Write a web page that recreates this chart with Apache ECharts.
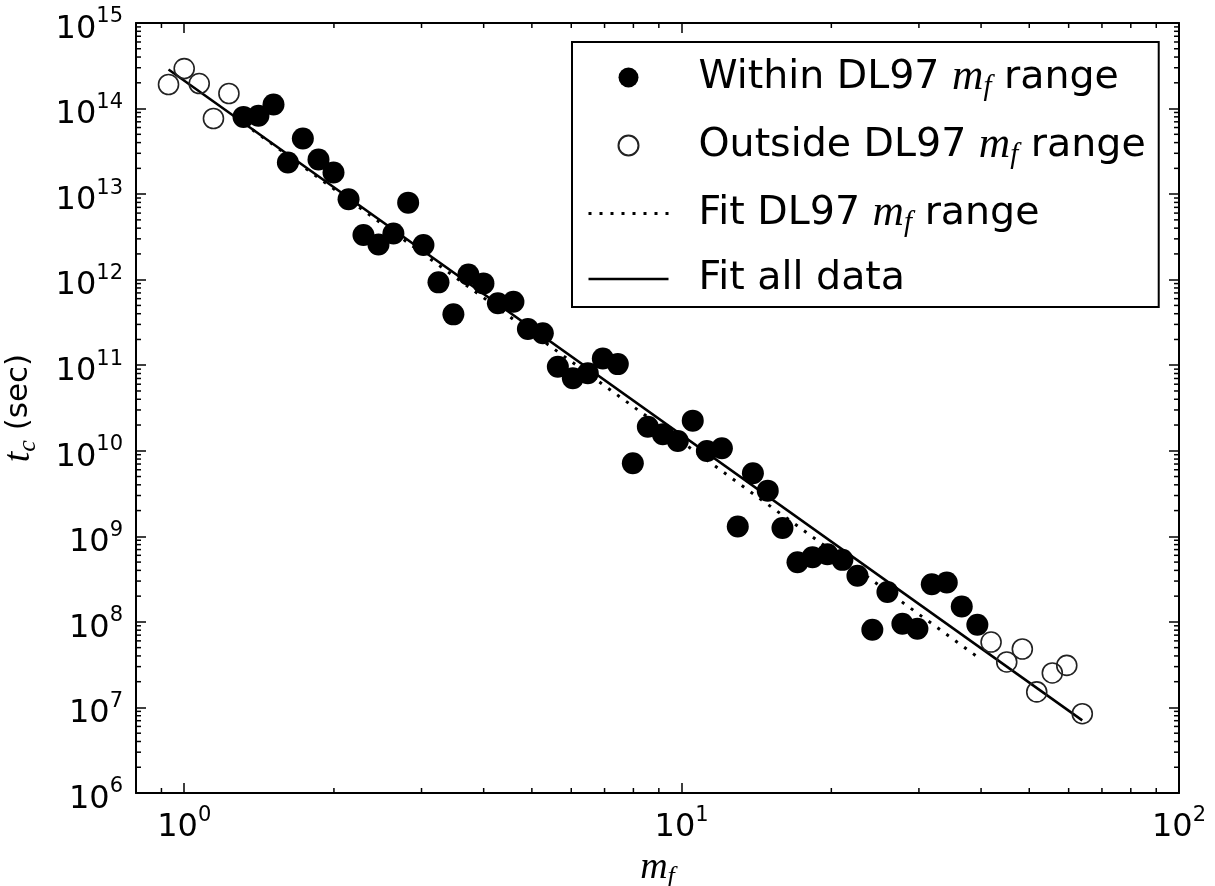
<!DOCTYPE html>
<html><head><meta charset="utf-8">
<script src="https://cdn.jsdelivr.net/npm/echarts@6/dist/echarts.min.js"></script>
<style>html,body{margin:0;padding:0;background:#fff}#c{width:1215px;height:886px}</style>
</head><body><div id="c"></div>
<script>
// ---- data ----
const withinX = [1.316,1.410,1.512,1.616,1.732,1.862,1.996,2.140,2.293,2.458,2.634,2.820,3.027,3.245,3.477,3.727,3.996,4.272,4.591,4.909,5.260,5.639,6.044,6.478,6.944,7.443,7.979,8.553,9.167,9.826,10.53,11.24,12.05,12.97,13.91,14.90,15.95,17.10,18.33,19.64,21.05,22.57,24.18,25.93,27.79,29.79,31.84,34.13,36.58,39.32];
const withinY = [7.99e13,8.25e13,1.115e14,2.34e13,4.47e13,2.54e13,1.79e13,8.73e12,3.32e12,2.58e12,3.47e12,7.95e12,2.54e12,9.30e11,3.93e11,1.15e12,9.05e11,5.29e11,5.52e11,2.65e11,2.36e11,9.61e10,7.04e10,8.05e10,1.20e11,1.03e11,7.15e9,1.91e10,1.56e10,1.30e10,2.25e10,9.96e9,1.07e10,1.30e9,5.47e9,3.42e9,1.25e9,4.99e8,5.71e8,6.19e8,5.31e8,3.46e8,8.09e7,2.23e8,9.50e7,8.31e7,2.76e8,2.89e8,1.51e8,9.25e7];
const outsideX = [0.930,1.000,1.072,1.145,1.230,41.90,45.05,48.42,51.76,55.63,59.48,63.91];
const outsideY = [1.91e14,2.93e14,1.96e14,7.65e13,1.50e14,5.81e7,3.40e7,4.82e7,1.52e7,2.53e7,3.10e7,8.45e6];
const fitDL97X = [1.316, 39.32];
const fitDL97Y = [6.74e13, 3.91e7];
const fitAllX = [0.93, 63.91];
const fitAllY = [2.86e14, 7.06e6];
const seriesNames = ['Within DL97 m_f range','Outside DL97 m_f range','Fit DL97 m_f range','Fit all data'];
const xRange = [0.8, 100];
const yRange = [1e6, 1e15];
const minorXTicks = [0.9,2,3,4,5,6,7,8,9,20,30,40,50,60,70,80,90];
const minorYMantissas = [2,3,4,5,6,7,8,9];
const yDecadeExponents = [6,7,8,9,10,11,12,13,14];
const xAxisTitle = '{i|m}{s|f}';
const yAxisTitle = '{i|t}{s|c}{n| (sec)}';

// ---- build ----
const zip = (a, b) => a.map((v, i) => [v, b[i]]);
const minorYTicks = [];
yDecadeExponents.forEach(e => minorYMantissas.forEach(m => minorYTicks.push(m * Math.pow(10, e))));

const tickRich = {
  b: {fontFamily: 'DejaVu Sans', fontSize: 32, color: '#000', padding: [13, 0, 0, 0]},
  s: {fontFamily: 'DejaVu Sans', fontSize: 21, color: '#000', padding: [0, 0, 12, 0]}
};
function powLabel(v) {
  const l = Math.log10(v), e = Math.round(l);
  if (Math.abs(l - e) > 1e-6) return '';
  return '{b|10}{s|' + e + '}';
}
const mathRich = {
  i: {fontFamily: 'Liberation Serif', fontStyle: 'italic', fontSize: 38, color: '#000'},
  s: {fontFamily: 'Liberation Serif', fontStyle: 'italic', fontSize: 26, color: '#000', padding: [18, 0, 0, 0]},
  n: {fontFamily: 'DejaVu Sans', fontSize: 31, color: '#000'}
};
const spine = {show: true, onZero: false, lineStyle: {color: '#000', width: 2}};
const majorTick = {show: true, inside: true, length: 10, lineStyle: {color: '#000', width: 1.5}};
const tickStyle = {stroke: '#000', lineWidth: 1.5};
const MINOR = 5;
const hiddenSymbol = {color: 'rgba(0,0,0,0)', borderWidth: 0, opacity: 0};
const dottedStyle = {color: '#000', width: 3, type: [3, 8]};
const solidStyle = {color: '#000', width: 2.5, type: 'solid'};

const option = {
  animation: false,
  backgroundColor: '#fff',
  grid: {left: 136, right: 36, top: 23, bottom: 93, containLabel: false, outerBoundsMode: 'none'},
  xAxis: [
    {type: 'log', min: xRange[0], max: xRange[1], position: 'bottom',
     axisLine: spine, axisTick: majorTick, splitLine: {show: false},
     axisLabel: {formatter: powLabel, rich: tickRich, margin: 6, showMinLabel: true, showMaxLabel: true},
     name: xAxisTitle, nameLocation: 'middle', nameGap: 52, nameTextStyle: {rich: mathRich}},
    {type: 'log', min: xRange[0], max: xRange[1], position: 'top',
     axisLine: spine, axisTick: majorTick, splitLine: {show: false}, axisLabel: {show: false}}
  ],
  yAxis: [
    {type: 'log', min: yRange[0], max: yRange[1], position: 'left',
     axisLine: spine, axisTick: majorTick, splitLine: {show: false},
     axisLabel: {formatter: powLabel, rich: tickRich, margin: 13, showMinLabel: true, showMaxLabel: true},
     name: yAxisTitle, nameLocation: 'middle', nameGap: 95, nameTextStyle: {rich: mathRich}},
    {type: 'log', min: yRange[0], max: yRange[1], position: 'right',
     axisLine: spine, axisTick: majorTick, splitLine: {show: false}, axisLabel: {show: false}}
  ],
  legend: {
    data: [
      {name: seriesNames[0], icon: 'circle'},
      {name: seriesNames[1], icon: 'circle'},
      {name: seriesNames[2], itemStyle: hiddenSymbol, lineStyle: dottedStyle},
      {name: seriesNames[3], itemStyle: hiddenSymbol, lineStyle: solidStyle}
    ],
    orient: 'vertical', left: 572, top: 42,
    padding: [11, 13, 6, 15], itemWidth: 80, itemHeight: 20, itemGap: 19,
    borderColor: '#000', borderWidth: 2, borderRadius: 0, backgroundColor: '#fff',
    selectedMode: false,
    textStyle: {fontFamily: 'DejaVu Sans', fontSize: 39.5, color: '#000', lineHeight: 44, padding: [0, 0, 0, 25],
      rich: {
        m: {fontFamily: 'Liberation Serif', fontStyle: 'italic', fontSize: 43.5, color: '#000', lineHeight: 44},
        f: {fontFamily: 'Liberation Serif', fontStyle: 'italic', fontSize: 29, color: '#000', lineHeight: 24, padding: [20, 0, 0, 0]}
      }},
    formatter: name => name.replace(' m_f ', ' {m|m}{f|f} ')
  },
  series: [
    {type: 'custom', name: 'minorX', silent: true, z: 1,
     data: minorXTicks.map(v => [v, yRange[0]]),
     renderItem: (params, api) => {
       const v = api.value(0);
       const pb = api.coord([v, yRange[0]]), pt = api.coord([v, yRange[1]]);
       return {type: 'group', children: [
         {type: 'line', shape: {x1: pb[0], y1: pb[1], x2: pb[0], y2: pb[1] - MINOR}, style: tickStyle},
         {type: 'line', shape: {x1: pt[0], y1: pt[1], x2: pt[0], y2: pt[1] + MINOR}, style: tickStyle}
       ]};
     }},
    {type: 'custom', name: 'minorY', silent: true, z: 1,
     data: minorYTicks.map(v => [xRange[0], v]),
     renderItem: (params, api) => {
       const v = api.value(1);
       const pl = api.coord([xRange[0], v]), pr = api.coord([xRange[1], v]);
       return {type: 'group', children: [
         {type: 'line', shape: {x1: pl[0], y1: pl[1], x2: pl[0] + MINOR, y2: pl[1]}, style: tickStyle},
         {type: 'line', shape: {x1: pr[0], y1: pr[1], x2: pr[0] - MINOR, y2: pr[1]}, style: tickStyle}
       ]};
     }},
    {type: 'line', name: seriesNames[2], data: zip(fitDL97X, fitDL97Y), symbol: 'none', showSymbol: false, z: 2,
     itemStyle: {color: '#000'}, lineStyle: dottedStyle},
    {type: 'line', name: seriesNames[3], data: zip(fitAllX, fitAllY), symbol: 'none', showSymbol: false, z: 2,
     itemStyle: {color: '#000'}, lineStyle: solidStyle},
    {type: 'scatter', name: seriesNames[0], data: zip(withinX, withinY), symbol: 'circle', symbolSize: 22, z: 3,
     itemStyle: {color: '#000', opacity: 1}},
    {type: 'scatter', name: seriesNames[1], data: zip(outsideX, outsideY), symbol: 'circle', symbolSize: 20, z: 3,
     itemStyle: {color: 'rgba(255,255,255,0)', borderColor: '#222', borderWidth: 1.6, opacity: 1}}
  ]
};
const chart = echarts.init(document.getElementById('c'), null, {renderer: 'canvas'});
chart.setOption(option);
</script></body></html>
